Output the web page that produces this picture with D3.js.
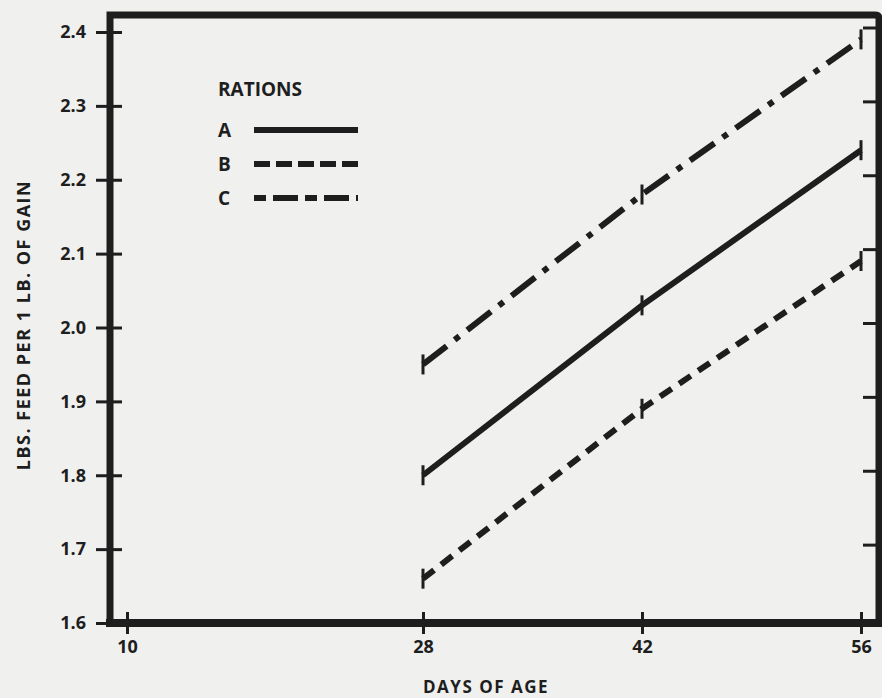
<!DOCTYPE html>
<html>
<head>
<meta charset="utf-8">
<script src="https://cdn.jsdelivr.net/npm/d3@7"></script>
<style>
  body { margin: 0; background: #f0f0ee; }
  svg { display: block; }
  .lbl { font-family: "Open Sans", sans-serif; font-weight: 700; fill: #1e1e1e; }
</style>
</head>
<body>
<div id="chart"></div>
<script>
// data
var days = [28, 42, 56];
var rationA = [1.80, 2.03, 2.24];
var rationB = [1.66, 1.89, 2.09];
var rationC = [1.95, 2.18, 2.39];
var rationNames = ["A", "B", "C"];
var xTicks = [10, 28, 42, 56];
var yTicks = [1.6, 1.7, 1.8, 1.9, 2.0, 2.1, 2.2, 2.3, 2.4];

var width = 882, height = 698;
var ink = "#1e1e1e";

var svg = d3.select("#chart").append("svg")
    .attr("width", width)
    .attr("height", height);

// the 10 tick sits closer to 28 than a linear scale would put it
var x = d3.scaleLinear()
    .domain([10, 28, 56])
    .range([127, 423, 861]);

var y = d3.scaleLinear()
    .domain([1.6, 2.4])
    .range([623, 32]);

var fr = {left: 110, right: 879, top: 15, bottom: 623};

// frame
svg.append("path")
    .attr("d", `M${fr.left},${fr.bottom} L${fr.left},${fr.top} L${fr.right - 4},${fr.top} Q${fr.right},${fr.top} ${fr.right},${fr.top + 4} L${fr.right},${fr.bottom}`)
    .attr("fill", "none")
    .attr("stroke", ink)
    .attr("stroke-width", 7);

svg.append("line")
    .attr("x1", fr.left - 4).attr("x2", fr.right + 3)
    .attr("y1", fr.bottom).attr("y2", fr.bottom)
    .attr("stroke", ink)
    .attr("stroke-width", 8);

// Y axis (ticks cross the frame)
var yAxis = svg.append("g")
    .attr("transform", "translate(" + (fr.left + 12) + ",0)")
    .call(d3.axisLeft(y).tickValues(yTicks).tickSize(26).tickPadding(10)
      .tickFormat(d3.format(".1f")));
yAxis.select(".domain").remove();
yAxis.selectAll(".tick line").attr("stroke", ink).attr("stroke-width", 3);
yAxis.selectAll("text").attr("class", "lbl").style("font-size", "18px");

// inner ticks on the right side
svg.selectAll("rtick")
    .data(yTicks.filter(d => d > 1.6))
    .join("line")
    .attr("x1", fr.right - 16).attr("x2", fr.right)
    .attr("y1", d => y(d) - 4).attr("y2", d => y(d) - 4)
    .attr("stroke", ink)
    .attr("stroke-width", 3);

// X axis
var xAxis = svg.append("g")
    .attr("transform", "translate(0," + (fr.bottom - 11) + ")")
    .call(d3.axisBottom(x).tickValues(xTicks).tickSize(22).tickPadding(6));
xAxis.select(".domain").remove();
xAxis.selectAll(".tick line").attr("stroke", ink).attr("stroke-width", 3);
xAxis.selectAll("text").attr("class", "lbl").style("font-size", "18px");

// axis titles
svg.append("text")
    .attr("class", "lbl")
    .attr("x", 423).attr("y", 693)
    .style("font-size", "17px")
    .style("letter-spacing", "1.5px")
    .text("DAYS OF AGE");

svg.append("text")
    .attr("class", "lbl")
    .attr("transform", "translate(30,325) rotate(-90)")
    .attr("text-anchor", "middle")
    .style("font-size", "18px")
    .style("letter-spacing", "1.5px")
    .text("LBS.  FEED PER 1 LB. OF GAIN");

// series
var series = [
  { name: "A", values: rationA, dash: null, legendDash: null },
  { name: "B", values: rationB, dash: "14,9", legendDash: "16,6" },
  { name: "C", values: rationC, dash: "30,10,6,10", legendDash: "12,7,25,7" }
];

var line = d3.line()
    .x((d, i) => x(days[i]))
    .y(d => y(d));

svg.selectAll("series")
    .data(series)
    .join("path")
    .attr("d", d => line(d.values))
    .attr("fill", "none")
    .attr("stroke", ink)
    .attr("stroke-width", 6)
    .attr("stroke-dasharray", d => d.dash);

// small ticks marking each point
series.forEach(function(s) {
  svg.selectAll("mark" + s.name)
    .data(s.values)
    .join("line")
    .attr("x1", (d, i) => x(days[i])).attr("x2", (d, i) => x(days[i]))
    .attr("y1", d => y(d) - 10).attr("y2", d => y(d) + 10)
    .attr("stroke", ink)
    .attr("stroke-width", 3);
});

// legend
svg.append("text")
    .attr("class", "lbl")
    .attr("x", 218).attr("y", 96)
    .style("font-size", "19px")
    .text("RATIONS");

var lg = svg.selectAll("legend")
    .data(series)
    .join("g")
    .attr("transform", (d, i) => "translate(218," + (130 + i * 34) + ")");

lg.append("text")
    .attr("class", "lbl")
    .attr("y", 7)
    .style("font-size", "19px")
    .text(d => d.name);

lg.append("line")
    .attr("x1", 36).attr("x2", 140)
    .attr("stroke", ink)
    .attr("stroke-width", 6)
    .attr("stroke-dasharray", d => d.legendDash);
</script>
</body>
</html>
